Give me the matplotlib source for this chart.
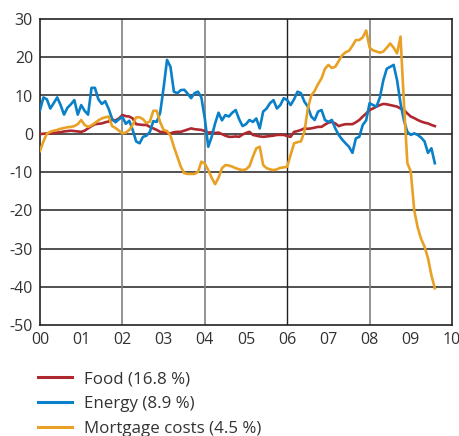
import matplotlib
matplotlib.use("Agg")
import matplotlib.pyplot as plt
import numpy as np
from matplotlib.lines import Line2D

plt.rcParams['font.family'] = ['Open Sans', 'DejaVu Sans']

# Monthly data, Jan 2000 - Aug 2009 (annual % change)
food = [
    -0.1, 0.0, 0.1, 0.1, 0.2, 0.3, 0.4, 0.6, 0.7, 0.8, 0.7, 0.6,
    0.5, 0.8, 1.4, 2.0, 2.5, 2.6, 2.7, 3.0, 3.2, 3.6, 3.5, 4.0,
    4.9, 4.6, 4.5, 4.0, 2.5, 2.4, 2.3, 2.3, 1.8, 1.4, 1.0, 0.5,
    0.4, 0.2, 0.1, 0.4, 0.5, 0.5, 0.8, 1.1, 1.4, 1.2, 1.1, 1.0,
    0.7, 0.3, 0.4, 0.2, 0.3, -0.1, -0.5, -0.8, -0.8, -0.7, -0.8, -0.2,
    0.2, 0.5, -0.3, -0.5, -0.7, -0.8, -0.7, -0.6, -0.5, -0.3, -0.3, -0.3,
    -0.6, -0.8, 0.5, 0.7, 1.0, 1.4, 1.3, 1.4, 1.6, 1.8, 1.8, 2.4,
    2.9, 3.1, 2.7, 2.0, 2.3, 2.5, 2.5, 2.5, 3.0, 3.6, 4.5, 5.3,
    6.2, 6.6, 7.1, 7.5, 7.8, 7.7, 7.5, 7.3, 7.1, 6.6, 6.2, 5.3,
    4.5, 4.1, 3.6, 3.2, 2.9, 2.7, 2.3, 2.0,
]
energy = [
    6.2, 9.5, 9.0, 6.6, 8.0, 9.5, 7.5, 5.0, 6.8, 7.7, 8.8, 5.0,
    7.5, 6.0, 5.0, 12.0, 12.0, 9.0, 7.8, 8.5, 6.5, 3.9, 3.0, 3.8,
    4.4, 2.6, 3.4, 1.0, -2.0, -2.5, -0.8, -0.5, 0.5, 3.3, 3.1, 5.5,
    12.0, 19.3, 17.5, 11.0, 10.6, 11.4, 11.5, 10.5, 9.3, 10.6, 11.0, 9.5,
    4.0, -3.4, -0.8, 2.7, 5.5, 3.5, 4.9, 4.5, 5.5, 6.2, 3.8, 2.0,
    2.5, 3.6, 3.1, 4.0, 1.4, 5.8, 6.6, 8.0, 8.8, 6.6, 7.5, 9.3,
    8.8, 7.5, 9.0, 11.0, 10.6, 8.4, 7.1, 4.5, 3.6, 5.8, 6.2, 3.6,
    3.1, 3.6, 1.4, -0.3, -1.5, -2.5, -3.4, -5.0, -1.2, -0.8, 2.3, 3.5,
    8.0, 7.5, 7.1, 9.5, 14.0, 17.0, 17.5, 18.0, 14.0, 8.0, 3.5, 0.5,
    -0.3, 0.1, -0.3, -1.0, -2.0, -5.0, -3.8, -7.7,
]
mortgage = [
    -4.5, -2.0, 0.0, 0.5, 0.8, 1.0, 1.3, 1.5, 1.7, 1.8, 2.0, 2.5,
    3.6, 2.3, 1.8, 2.2, 2.8, 3.5, 4.0, 4.3, 4.5, 2.0, 1.5, 0.8,
    0.1, 0.3, 1.0, 2.3, 4.3, 4.3, 3.8, 2.8, 3.2, 6.0, 6.0, 3.0,
    1.0, 0.7, -0.5, -3.4, -6.0, -8.6, -10.3, -10.5, -10.5, -10.5, -10.0, -7.3,
    -7.8, -9.5, -11.5, -13.2, -11.5, -9.0, -8.2, -8.3, -8.6, -9.0, -9.3, -9.5,
    -9.3, -8.5, -6.0, -3.8, -3.4, -8.2, -9.0, -9.3, -9.5, -9.3, -8.9, -8.8,
    -8.6, -5.5, -2.5, -2.2, -2.0, 0.5, 6.5, 10.0, 11.2, 13.0, 14.5, 17.0,
    18.0, 17.2, 17.5, 19.0, 20.5, 21.3, 21.7, 23.0, 24.5, 24.5, 25.2, 27.0,
    22.5, 21.8, 21.5, 21.2, 21.5, 22.5, 23.6, 22.5, 21.0, 25.4, 8.0, -7.7,
    -9.9, -20.0, -24.5, -27.5, -29.5, -32.5, -37.0, -40.4,
]
series_labels = ["Food (16.8 %)", "Energy (8.9 %)", "Mortgage costs (4.5 %)"]
year_labels = ["00", "01", "02", "03", "04", "05", "06", "07", "08", "09", "10"]
y_ticks = [-50, -40, -30, -20, -10, 0, 10, 20, 30]

colors = ["#b0282f", "#0a80c8", "#e8a124"]
text_color = "#333333"

t = np.arange(len(food)) / 12.0

fig = plt.figure(figsize=(4.6, 4.36), dpi=100)
ax = fig.add_axes([40 / 460, 1 - 325 / 436, 412 / 460, 306 / 436])

# grid
for v in y_ticks[1:-1]:
    ax.axhline(v, color="#222222", lw=1.1, zorder=1)
for yr in [2, 4, 8]:
    ax.axvline(yr, color="#808080", lw=1.2, zorder=1)
ax.axvline(6, color="#222222", lw=1.0, zorder=1)

for data, c in zip([food, energy, mortgage], colors):
    ax.plot(t, data, color=c, lw=1.9, zorder=3, solid_joinstyle="round")

ax.set_xlim(0, 10)
ax.set_ylim(-50, 30)
ax.set_xticks(range(11))
ax.set_xticklabels(year_labels)
ax.set_yticks(y_ticks)
ax.set_yticklabels([str(v) for v in y_ticks])
ax.set_xticks([1, 3, 5, 7, 9], minor=True)
ax.tick_params(axis="both", which="major", length=0, labelsize=11.5,
               colors=text_color)
ax.tick_params(axis="x", which="major", pad=5)
ax.tick_params(axis="y", which="major", pad=5)
ax.tick_params(axis="x", which="minor", direction="in", length=6.5,
               width=1.0, color="#333333")
for s in ax.spines.values():
    s.set_color("#222222")
    s.set_linewidth(1.2)

handles = [Line2D([0], [0], color=c, lw=2.2) for c in colors]
fig.legend(handles, series_labels, loc="upper left",
           bbox_to_anchor=(38 / 460, 1 - 371 / 436), frameon=False,
           fontsize=12.2, handlelength=2.0, handletextpad=0.7,
           labelspacing=0.52, borderpad=0, borderaxespad=0,
           labelcolor=text_color)

fig.savefig("out.png", dpi=100)
